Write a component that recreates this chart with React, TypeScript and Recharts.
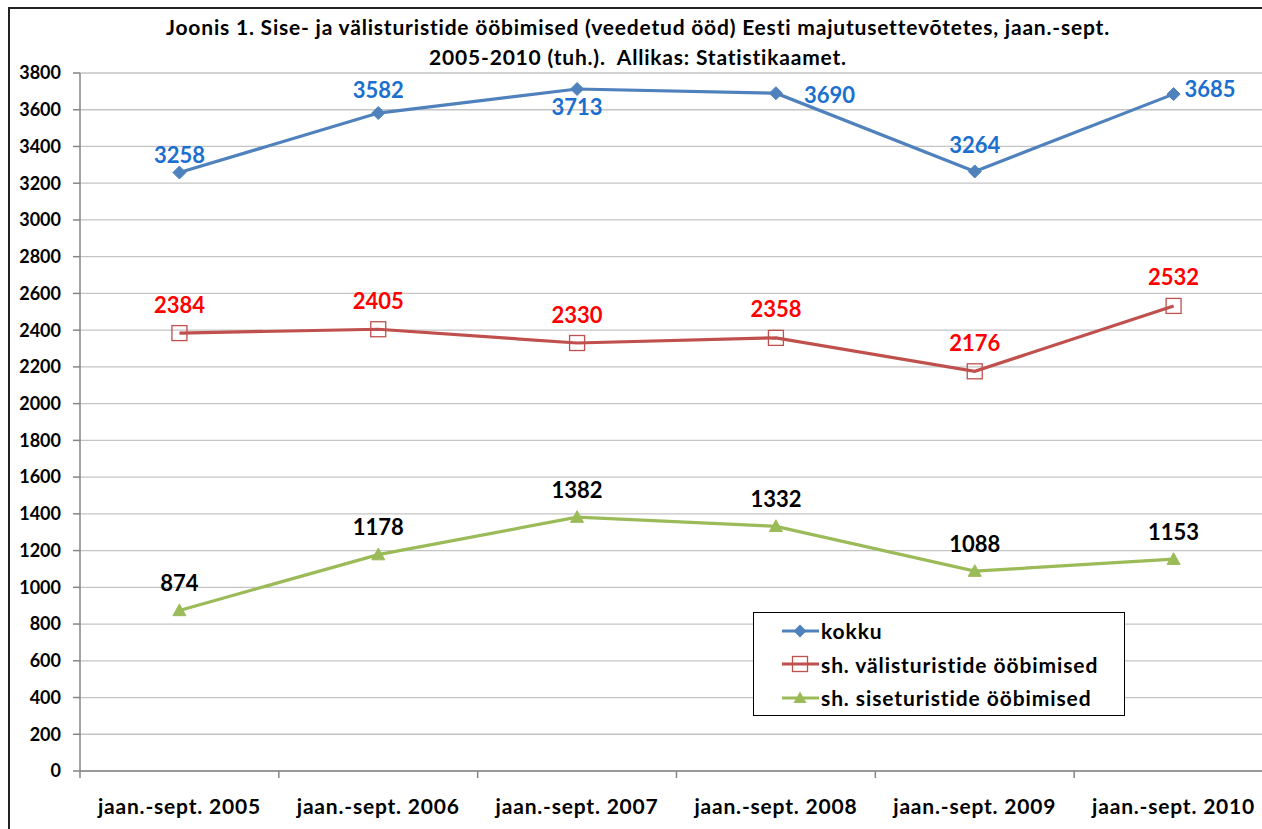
import React from 'react';
import { LineChart, Line, XAxis, YAxis, CartesianGrid, Legend, LabelList } from 'recharts';

const categories = [
  'jaan.-sept. 2005',
  'jaan.-sept. 2006',
  'jaan.-sept. 2007',
  'jaan.-sept. 2008',
  'jaan.-sept. 2009',
  'jaan.-sept. 2010',
];
const kokku = [3258, 3582, 3713, 3690, 3264, 3685];
const valis = [2384, 2405, 2330, 2358, 2176, 2532];
const sise = [874, 1178, 1382, 1332, 1088, 1153];
const yTicks = [0, 200, 400, 600, 800, 1000, 1200, 1400, 1600, 1800, 2000, 2200, 2400, 2600, 2800, 3000, 3200, 3400, 3600, 3800];

// label placement styling (not data): [dx, dy, anchor]
const kokkuLabelStyle: [number, number, string][] = [
  [0, -18, 'middle'],
  [0, -24, 'middle'],
  [0, 18, 'middle'],
  [28, 1, 'start'],
  [0, -27, 'middle'],
  [11, -6, 'start'],
];

const seriesNames = ['kokku', 'sh. välisturistide ööbimised', 'sh. siseturistide ööbimised'];
const title1 = 'Joonis 1. Sise- ja välisturistide ööbimised (veedetud ööd) Eesti majutusettevõtetes, jaan.-sept.';
const title2 = '2005-2010 (tuh.).  Allikas: Statistikaamet.';

const BLUE = '#4f81bd';
const RED = '#c0504d';
const GREEN = '#9bbb59';
const FONT = 'Lato, "Open Sans", sans-serif';

const CHART_W = 1263;
const MARGIN_L = 10;
const Y_W = 60;
const PLOT_W = CHART_W - MARGIN_L - Y_W;
const HALF_BAND = PLOT_W / categories.length / 2;

const data = categories.map((c, i) => ({
  x: i + 0.5,
  name: c,
  kokku: kokku[i],
  valis: valis[i],
  sise: sise[i],
}));

const Diamond = (props: any) => {
  const { cx, cy } = props;
  if (cx == null || cy == null) return null;
  const r = 6.5;
  return <path d={`M${cx},${cy - r} L${cx + r},${cy} L${cx},${cy + r} L${cx - r},${cy} Z`} fill={BLUE} stroke={BLUE} />;
};
const Square = (props: any) => {
  const { cx, cy } = props;
  if (cx == null || cy == null) return null;
  const r = 7.5;
  return <rect x={cx - r} y={cy - r} width={2 * r} height={2 * r} fill="none" stroke={RED} strokeWidth={1.3} />;
};
const Triangle = (props: any) => {
  const { cx, cy } = props;
  if (cx == null || cy == null) return null;
  const r = 6.5;
  return <path d={`M${cx},${cy - r} L${cx + r},${cy + r * 0.8} L${cx - r},${cy + r * 0.8} Z`} fill={GREEN} stroke={GREEN} />;
};

const makeLabel = (color: string, dyTop: number, styles?: [number, number, string][]) => (props: any) => {
  const { x, y, value, index } = props;
  const s = styles ? styles[index] : [0, -dyTop, 'middle'];
  return (
    <text x={x + s[0]} y={y + s[1]} textAnchor={s[2] as any} dominantBaseline="central" fill={color} fontSize={22} fontWeight="bold" fontFamily={FONT}>
      {value}
    </text>
  );
};

const XTick = (props: any) => {
  const { x, y, payload } = props;
  const i = Math.round(payload.value);
  if (i < 0 || i >= categories.length) return null;
  return (
    <text x={x + HALF_BAND} y={y + 25} textAnchor="middle" dominantBaseline="central" fill="#000" fontSize={21} fontWeight="bold" fontFamily={FONT} letterSpacing={0.8}>
      {categories[i]}
    </text>
  );
};

const legendMarkers = [
  (cx: number, cy: number) => <path d={`M${cx},${cy - 6.5} L${cx + 6.5},${cy} L${cx},${cy + 6.5} L${cx - 6.5},${cy} Z`} fill={BLUE} />,
  (cx: number, cy: number) => <rect x={cx - 7.5} y={cy - 7.5} width={15} height={15} fill="none" stroke={RED} strokeWidth={1.3} />,
  (cx: number, cy: number) => <path d={`M${cx},${cy - 6.5} L${cx + 6.5},${cy + 5} L${cx - 6.5},${cy + 5} Z`} fill={GREEN} />,
];
const legendColors = [BLUE, RED, GREEN];

const LegendBox = () => (
  <div style={{ width: 372, height: 104, border: '1px solid #000', background: '#fff', boxSizing: 'border-box', paddingTop: 1 }}>
    {seriesNames.map((n, i) => (
      <div key={n} style={{ display: 'flex', alignItems: 'center', height: 33.5 }}>
        <svg width={67} height={24} style={{ flex: 'none' }}>
          <line x1={28} y1={12} x2={65} y2={12} stroke={legendColors[i]} strokeWidth={3} />
          {legendMarkers[i](46, 12)}
        </svg>
        <span style={{ fontFamily: FONT, fontWeight: 'bold', fontSize: 21, letterSpacing: 0.9, color: '#000', whiteSpace: 'nowrap' }}>{n}</span>
      </div>
    ))}
  </div>
);

export default function App() {
  return (
    <div
      style={{
        position: 'fixed',
        left: 8,
        top: 7,
        width: 1320,
        height: 900,
        maxWidth: 'none',
        maxHeight: 'none',
        border: '2px solid #222',
        background: '#fff',
        overflow: 'visible',
      }}
    >
      <div style={{ position: 'absolute', left: 0, top: 3, width: 1256, maxWidth: 'none', textAlign: 'center', fontFamily: FONT, fontWeight: 'bold', fontSize: 21, letterSpacing: 0.8, lineHeight: '30px', color: '#000', whiteSpace: 'pre' }}>
        <div>{title1}</div>
        <div>{title2}</div>
      </div>
      <div style={{ position: 'absolute', left: 0, top: 0, width: CHART_W, height: 832, maxWidth: 'none', maxHeight: 'none' }}>
        <LineChart width={CHART_W} height={832} data={data} margin={{ top: 64, right: 0, left: MARGIN_L, bottom: 20 }} style={{ maxWidth: 'none', maxHeight: 'none' }}>
          <CartesianGrid vertical={false} stroke="#c4c4c4" strokeWidth={1.3} />
          <XAxis
            dataKey="x"
            type="number"
            domain={[0, 6]}
            ticks={[0, 1, 2, 3, 4, 5, 6]}
            allowDecimals={false}
            height={50}
            axisLine={{ stroke: '#868686', strokeWidth: 1.5 }}
            tickLine={{ stroke: '#868686', strokeWidth: 1.5 }}
            tickSize={7}
            tick={<XTick />}
            interval={0}
          />
          <YAxis
            width={Y_W}
            domain={[0, 3800]}
            ticks={yTicks}
            interval={0}
            axisLine={{ stroke: '#868686', strokeWidth: 1.5 }}
            tickLine={{ stroke: '#868686', strokeWidth: 1.5 }}
            tickSize={7}
            tickMargin={12}
            tick={{ fill: '#000', fontSize: 18, fontWeight: 'bold', fontFamily: FONT }}
          />
          <Legend
            layout="vertical"
            align="center"
            verticalAlign="middle"
            wrapperStyle={{ position: 'absolute', left: 743, top: 603, width: 372, height: 104 }}
            content={() => <LegendBox />}
          />
          <Line name={seriesNames[0]} dataKey="kokku" stroke={BLUE} strokeWidth={3.2} dot={<Diamond />} activeDot={false} isAnimationActive={false}>
            <LabelList dataKey="kokku" content={makeLabel('#1b6fcf', 22, kokkuLabelStyle)} />
          </Line>
          <Line name={seriesNames[1]} dataKey="valis" stroke={RED} strokeWidth={3.2} dot={<Square />} activeDot={false} isAnimationActive={false}>
            <LabelList dataKey="valis" content={makeLabel('#ff0000', 29)} />
          </Line>
          <Line name={seriesNames[2]} dataKey="sise" stroke={GREEN} strokeWidth={3.2} dot={<Triangle />} activeDot={false} isAnimationActive={false}>
            <LabelList dataKey="sise" content={makeLabel('#000000', 28)} />
          </Line>
        </LineChart>
      </div>
    </div>
  );
}
